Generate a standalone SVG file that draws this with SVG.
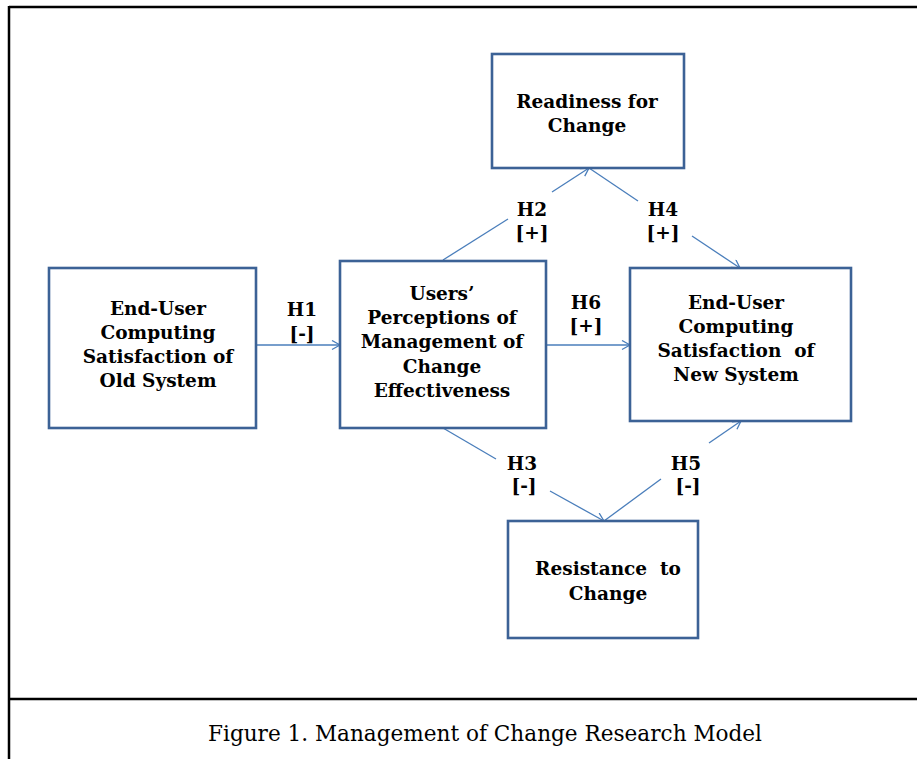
<svg xmlns="http://www.w3.org/2000/svg" width="917" height="759" viewBox="0 0 917 759">
<style>
.frame{stroke:#000;stroke-width:2.5;fill:none}
.box{fill:#fff;stroke:#3C6296;stroke-width:2.6}
.lbl{font-family:"DejaVu Serif","Liberation Serif",serif;font-weight:bold;font-size:18.5px;fill:#000;text-anchor:middle}
.hyp{font-family:"DejaVu Serif","Liberation Serif",serif;font-weight:bold;font-size:18.5px;fill:#000;text-anchor:middle}
.cap{font-family:"DejaVu Serif","Liberation Serif",serif;font-size:23px;fill:#000;text-anchor:middle}
.conn{stroke:#4A7EBB;stroke-width:1.3;fill:none}
</style>
<defs>
<marker id="arr" markerUnits="userSpaceOnUse" markerWidth="12" markerHeight="12" refX="9" refY="5" orient="auto">
<path d="M1,0.5 L9,5 L1,9.5" fill="none" stroke="#4A7EBB" stroke-width="1.3"/>
</marker>
</defs>
<rect width="917" height="759" fill="#fff"/>
<g id="frame">
<line class="frame" x1="9" y1="7" x2="917" y2="7"/>
<line class="frame" x1="9" y1="6" x2="9" y2="759"/>
<line class="frame" x1="9" y1="699" x2="917" y2="699"/>
</g>
<g id="connectors">
<line class="conn" x1="256" y1="345" x2="340" y2="345" marker-end="url(#arr)"/>
<line class="conn" x1="546" y1="345" x2="630" y2="345" marker-end="url(#arr)"/>
<line class="conn" x1="443" y1="260" x2="508" y2="219"/>
<line class="conn" x1="552" y1="192" x2="589" y2="168" marker-end="url(#arr)"/>
<line class="conn" x1="589" y1="168" x2="638" y2="201"/>
<line class="conn" x1="692" y1="236" x2="740" y2="268" marker-end="url(#arr)"/>
<line class="conn" x1="443" y1="428" x2="496" y2="459"/>
<line class="conn" x1="550" y1="491" x2="604" y2="521" marker-end="url(#arr)"/>
<line class="conn" x1="604" y1="521" x2="661" y2="479"/>
<line class="conn" x1="709" y1="443" x2="741" y2="421" marker-end="url(#arr)"/>
</g>
<g id="readiness">
<rect class="box" x="492" y="54" width="192" height="114"/>
<text class="lbl" x="587" y="108">Readiness for</text>
<text class="lbl" x="587" y="132">Change</text>
</g>
<g id="old-system">
<rect class="box" x="49" y="268" width="207" height="160"/>
<text class="lbl" x="158" y="315">End-User</text>
<text class="lbl" x="158" y="339">Computing</text>
<text class="lbl" x="158" y="363">Satisfaction of</text>
<text class="lbl" x="158" y="387">Old System</text>
</g>
<g id="perceptions">
<rect class="box" x="340" y="261" width="206" height="167"/>
<text class="lbl" x="442" y="300">Users’</text>
<text class="lbl" x="442" y="324">Perceptions of</text>
<text class="lbl" x="442" y="348">Management of</text>
<text class="lbl" x="442" y="373">Change</text>
<text class="lbl" x="442" y="397">Effectiveness</text>
</g>
<g id="new-system">
<rect class="box" x="630" y="268" width="221" height="153"/>
<text class="lbl" x="736" y="309">End-User</text>
<text class="lbl" x="736" y="333">Computing</text>
<text class="lbl" x="736" y="357" xml:space="preserve">Satisfaction  of</text>
<text class="lbl" x="736" y="381">New System</text>
</g>
<g id="resistance">
<rect class="box" x="508" y="521" width="190" height="117"/>
<text class="lbl" x="608" y="575" xml:space="preserve">Resistance  to</text>
<text class="lbl" x="608" y="600">Change</text>
</g>
<g id="labels">
<text class="hyp" x="302" y="316">H1</text>
<text class="hyp" x="302" y="340">[-]</text>
<text class="hyp" x="586" y="309">H6</text>
<text class="hyp" x="586" y="332">[+]</text>
<text class="hyp" x="532" y="216">H2</text>
<text class="hyp" x="532" y="239">[+]</text>
<text class="hyp" x="663" y="216">H4</text>
<text class="hyp" x="663" y="239">[+]</text>
<text class="hyp" x="522" y="470">H3</text>
<text class="hyp" x="524" y="492">[-]</text>
<text class="hyp" x="686" y="470">H5</text>
<text class="hyp" x="688" y="492">[-]</text>
</g>
<g id="caption">
<text class="cap" x="485" y="741" textLength="554" lengthAdjust="spacingAndGlyphs">Figure 1. Management of Change Research Model</text>
</g>
</svg>
